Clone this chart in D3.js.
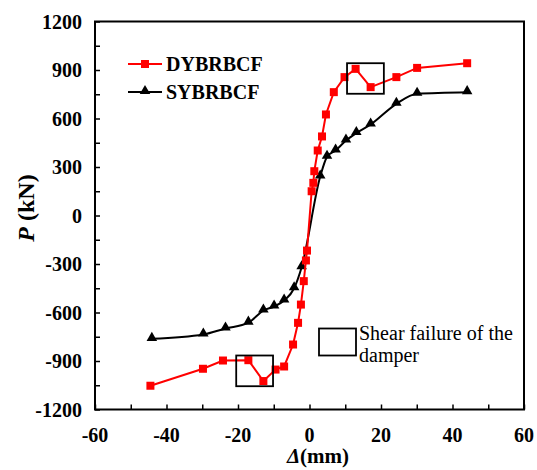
<!DOCTYPE html>
<html>
<head>
<meta charset="utf-8">
<script src="https://d3js.org/d3.v7.min.js"></script>
<style>
body { margin: 0; background: #fff; }
text { font-family: "Times New Roman", "Liberation Serif", serif; }
.tick-label { font-size: 20px; font-weight: bold; }
</style>
</head>
<body>
<div id="chart"></div>
<script>
// data
var dyX = [-44.5, -29.8, -24.2, -17.1, -12.9, -9.5, -7.1, -4.6, -3.2, -2.4, -1.6, -1.0, -0.7, 0.6, 1.07, 1.35, 2.3, 3.5, 4.6, 6.8, 9.8, 12.9, 17.1, 24.3, 30.1, 44.1];
var dyP = [-1053, -948, -897, -895, -1024, -953, -934, -798, -664, -551, -406, -278, -217, 150, 202, 274, 402, 489, 625, 763, 856, 907, 794, 856, 913, 942];
var syX = [-44.1, -29.7, -23.5, -17.1, -12.9, -9.9, -7.1, -4.3, -2.2, 3.0, 4.9, 7.3, 10.2, 13.1, 17.1, 24.3, 30.1, 44.1];
var syP = [-763, -736, -699, -663, -588, -563, -526, -450, -320, 241, 363, 402, 464, 510, 563, 691, 753, 763];
var xTicks = [-60, -40, -20, 0, 20, 40, 60];
var yTicks = [-1200, -900, -600, -300, 0, 300, 600, 900, 1200];
// damper failure boxes [x0, x1, p0, p1]
var failBoxes = [[-20.5, -10.2, -866, -1056], [10.5, 20.8, 942, 753]];

var W = 537, H = 470;
var pL = 95, pR = 524, pT = 21.5, pB = 409.5;

var svg = d3.select("#chart").append("svg")
    .attr("width", W).attr("height", H);

var x = d3.scaleLinear().domain([-60, 60]).range([pL, pR]);
var y = d3.scaleLinear().domain([-1200, 1200]).range([pB, pT]);

// inside ticks (minor + major)
var g = svg.append("g");
g.append("g")
    .attr("transform", "translate(0," + pB + ")")
    .call(d3.axisTop(x).tickValues(d3.range(-60, 61, 10)).tickSize(5).tickFormat(""))
    .call(function(s) { s.select(".domain").remove(); s.selectAll("line").attr("stroke-width", 1.5); });
g.append("g")
    .attr("transform", "translate(" + pL + ",0)")
    .call(d3.axisRight(y).tickValues(d3.range(-1200, 1201, 150)).tickSize(5).tickFormat(""))
    .call(function(s) { s.select(".domain").remove(); s.selectAll("line").attr("stroke-width", 1.5); });

// frame
svg.append("rect")
    .attr("x", pL).attr("y", pT)
    .attr("width", pR - pL).attr("height", pB - pT)
    .attr("fill", "none").attr("stroke", "#000").attr("stroke-width", 2);

// tick labels
svg.selectAll(".xl").data(xTicks).enter().append("text")
    .attr("class", "tick-label")
    .attr("x", function(d) { return x(d); })
    .attr("y", 442)
    .attr("text-anchor", "middle")
    .text(function(d) { return d; });
svg.selectAll(".yl").data(yTicks).enter().append("text")
    .attr("class", "tick-label")
    .attr("x", 82)
    .attr("y", function(d) { return y(d) + 7; })
    .attr("text-anchor", "end")
    .text(function(d) { return d; });

// axis titles
var xt = svg.append("text")
    .attr("x", 318).attr("y", 463)
    .attr("text-anchor", "middle")
    .style("font-size", "21px").style("font-weight", "bold");
xt.append("tspan").style("font-style", "italic").text("\u0394");
xt.append("tspan").text("(mm)");

var yt = svg.append("text")
    .attr("transform", "translate(34,208) rotate(-90)")
    .attr("text-anchor", "middle")
    .style("font-size", "24px").style("font-weight", "bold");
yt.append("tspan").style("font-style", "italic").text("P");
yt.append("tspan").text(" (kN)");

var dy = dyX.map(function(v, i) { return [v, dyP[i]]; });
var sy = syX.map(function(v, i) { return [v, syP[i]]; });

var lineRed = d3.line().x(function(d) { return x(d[0]); }).y(function(d) { return y(d[1]); });
var lineBlk = d3.line().curve(d3.curveMonotoneX).x(function(d) { return x(d[0]); }).y(function(d) { return y(d[1]); });

var tri = d3.symbol().type(d3.symbolTriangle).size(48);

svg.append("path").datum(sy).attr("d", lineBlk)
    .attr("fill", "none").attr("stroke", "#000").attr("stroke-width", 2);
svg.selectAll(".tri").data(sy).enter().append("path")
    .attr("d", tri)
    .attr("transform", function(d) { return "translate(" + x(d[0]) + "," + (y(d[1]) - 1) + ")"; })
    .attr("fill", "#000");

svg.append("path").datum(dy).attr("d", lineRed)
    .attr("fill", "none").attr("stroke", "#ff0000").attr("stroke-width", 2);
svg.selectAll(".sq").data(dy).enter().append("rect")
    .attr("x", function(d) { return x(d[0]) - 4; })
    .attr("y", function(d) { return y(d[1]) - 4; })
    .attr("width", 8).attr("height", 8)
    .attr("fill", "#ff0000");

// failure boxes
svg.selectAll(".fb").data(failBoxes).enter().append("rect")
    .attr("x", function(d) { return x(d[0]); })
    .attr("y", function(d) { return y(Math.max(d[2], d[3])); })
    .attr("width", function(d) { return x(d[1]) - x(d[0]); })
    .attr("height", function(d) { return Math.abs(y(d[2]) - y(d[3])); })
    .attr("fill", "none").attr("stroke", "#000").attr("stroke-width", 1.8);

// legend
var leg = svg.append("g");
leg.append("line").attr("x1", 128).attr("x2", 162).attr("y1", 64).attr("y2", 64)
    .attr("stroke", "#ff0000").attr("stroke-width", 2);
leg.append("rect").attr("x", 141).attr("y", 60).attr("width", 8).attr("height", 8).attr("fill", "#ff0000");
leg.append("text").attr("x", 166).attr("y", 71)
    .style("font-size", "20px").style("font-weight", "bold").text("DYBRBCF");
leg.append("line").attr("x1", 128).attr("x2", 162).attr("y1", 92).attr("y2", 92)
    .attr("stroke", "#000").attr("stroke-width", 2);
leg.append("path").attr("d", tri).attr("transform", "translate(145,91)").attr("fill", "#000");
leg.append("text").attr("x", 166).attr("y", 99)
    .style("font-size", "20px").style("font-weight", "bold").text("SYBRBCF");

// annotation
svg.append("rect").attr("x", 319).attr("y", 328.5).attr("width", 37).attr("height", 27)
    .attr("fill", "none").attr("stroke", "#000").attr("stroke-width", 1.8);
var ann = svg.append("text").attr("x", 359).attr("y", 340).style("font-size", "20px");
ann.append("tspan").attr("x", 359).text("Shear failure of the");
ann.append("tspan").attr("x", 359).attr("dy", 22).text("damper");
</script>
</body>
</html>
